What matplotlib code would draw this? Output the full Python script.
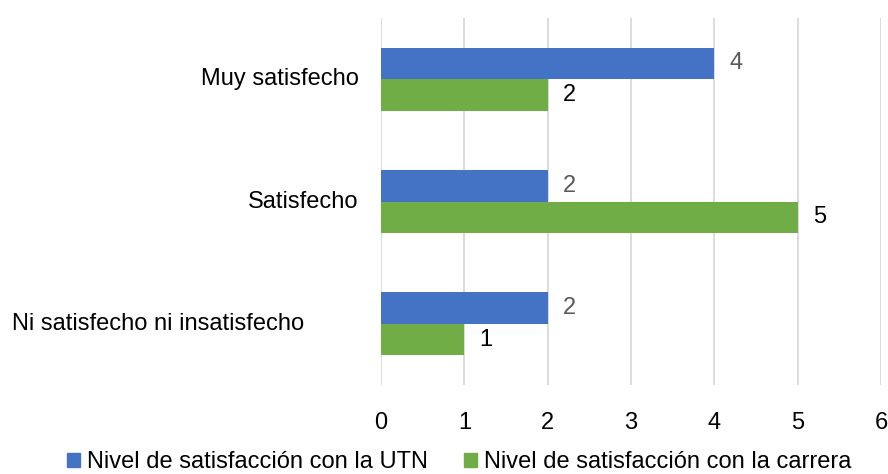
import numpy as np
import matplotlib.pyplot as plt
from matplotlib.patches import Patch

plt.rcParams['font.family'] = ['Liberation Sans', 'DejaVu Sans']

# Survey results
categorias = ['Muy satisfecho', 'Satisfecho', 'Ni satisfecho ni insatisfecho']
utn = [4, 2, 2]
carrera = [2, 5, 1]
series_names = ['Nivel de satisfacción con la UTN', 'Nivel de satisfacción con la carrera']

color_utn = '#4472C4'
color_carrera = '#70AD47'
fs = 17

fig = plt.figure(figsize=(8.88, 4.74), dpi=100)
ax = fig.add_axes([381 / 888, 1 - 385 / 474, 500 / 888, 367 / 474])

y = np.arange(len(categorias))
h = 0.258
ax.barh(y - h / 2, utn, height=h, color=color_utn, zorder=3)
ax.barh(y + h / 2, carrera, height=h, color=color_carrera, zorder=3)

# value labels
for yi, v in zip(y, utn):
    ax.text(v + 0.18, yi - h / 2, str(v), va='center', ha='left', fontsize=fs, color='#595959')
for yi, v in zip(y, carrera):
    ax.text(v + 0.18, yi + h / 2, str(v), va='center', ha='left', fontsize=fs, color='black')

ax.set_xlim(0, 6)
ax.set_ylim(2.5, -0.5)
ax.set_xticks(range(7))
ax.set_yticks(y)
ax.set_yticklabels([])
ax.tick_params(axis='both', length=0, labelsize=fs, colors='black')
ax.tick_params(axis='x', pad=19.5)
ax.grid(axis='x', color='#D9D9D9', linewidth=1.3, zorder=0)
for s in ax.spines.values():
    s.set_visible(False)

# category labels (the long one sits further left)
offsets = [16, 16, 55]
for yi, name, off in zip(y, categorias, offsets):
    ax.annotate(name, xy=(0, yi), xycoords=('axes fraction', 'data'),
                xytext=(-off, 0), textcoords='offset points',
                ha='right', va='center', fontsize=fs)

handles = [Patch(color=color_utn), Patch(color=color_carrera)]
fig.legend(handles, series_names, loc='center', bbox_to_anchor=(0.517, 1 - 462 / 474), ncol=2,
           frameon=False, fontsize=fs, handlelength=0.55, handleheight=0.55,
           handletextpad=0.3, columnspacing=1.5)

fig.savefig('out.png', dpi=100)
